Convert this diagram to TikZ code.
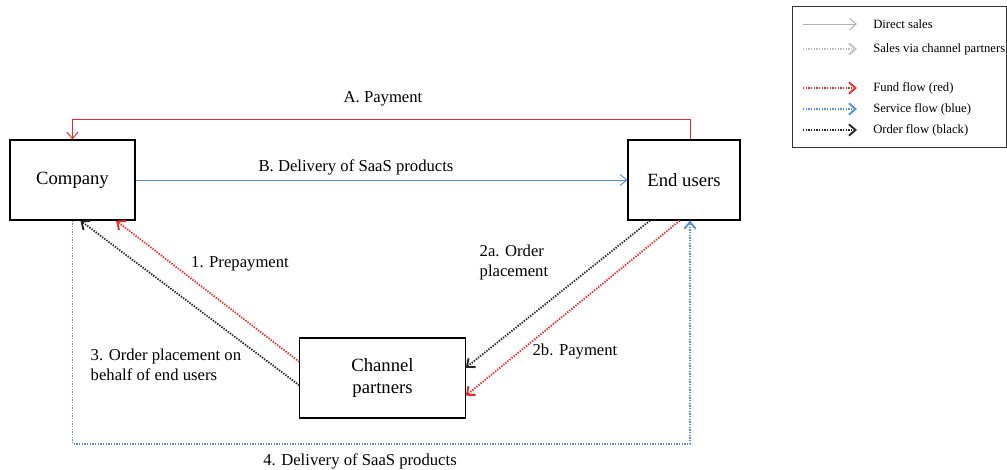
\documentclass[tikz,border=0pt]{standalone}
\usepackage{fontspec}
\setmainfont{Liberation Serif}
\usetikzlibrary{arrows.meta}

\definecolor{fundred}{RGB}{232,42,42}
\definecolor{serviceblue}{RGB}{84,142,214}
\definecolor{lightgray}{RGB}{175,175,175}

\tikzset{
  box/.style={draw, line width=0.9pt, minimum height=60pt, align=center,
    font=\fontsize{14}{17}\selectfont},
  lbl/.style={font=\fontsize{12.5}{15}\selectfont},
  flow/.style={line width=0.7pt, -{Straight Barb[length=5pt,width=8.5pt]}},
  dots/.style={dash pattern=on 1pt off 1pt, line width=1.4pt},
  directsale/.style={flow, lightgray},
  viapartner/.style={flow, dots, lightgray!80},
  fundflow/.style={flow, dots, fundred},
  serviceflow/.style={flow, dots, serviceblue},
  orderflow/.style={flow, dots, black!85}
}

\begin{document}
\begin{tikzpicture}[x=0.75pt, y=-0.75pt]
\useasboundingbox (0,0) rectangle (1007,470);
% Acteurs
\node[box, minimum width=93.75pt] (company) at (72.5,180) {Company};
\node[box, minimum width=84pt] (endusers) at (684,180) {End users};
\node[box, minimum width=124pt] (partners) at (382.5,378) {Channel\\partners};

% Vente directe
\draw[flow, fundred] ([xshift=4.5pt]endusers.north) -- ++(0,-20) -| (company.north);
\draw[flow, serviceblue] (company.east) -- (endusers.west);
\node[lbl] (lblA) at (383,99) {A. Payment};
\node[lbl] (lblB) at (356,167) {B. Delivery of SaaS products};

% Vente via partenaires
\draw[fundflow] (partners.169) -- (company.317);
\draw[orderflow] (partners.185) -- (company.281);
\draw[orderflow] (endusers.230) -- (partners.7);
\draw[fundflow] (endusers.264) -- (partners.348);
\draw[serviceflow] (company.south) -- ++(0,223) -| ([xshift=4.5pt]endusers.south);
\node[lbl] (lbl1) at (240,264) {1. Prepayment};
\node[lbl, anchor=west, align=left] (lbl2a) at (475,262) {2a. Order\\placement};
\node[lbl] (lbl2b) at (575,352) {2b. Payment};
\node[lbl, anchor=west, align=left] (lbl3) at (86,365) {3. Order placement on\\behalf of end users};
\node[lbl] (lbl4) at (360,461) {4. Delivery of SaaS products};

% Legende
\node[draw, black!80, line width=0.8pt, minimum width=160.5pt, minimum height=105.75pt,
  anchor=north west] (legend) at (792,6) {};
\foreach \i/\y/\sty/\txt in {1/24/directsale/Direct sales,
    2/49/viapartner/Sales via channel partners,
    3/88/fundflow/Fund flow (red),
    4/109/serviceflow/Service flow (blue),
    5/130/orderflow/Order flow (black)} {
  \coordinate (ls\i) at (803,\y);
  \coordinate (le\i) at (857,\y);
  \draw[\sty] (ls\i) -- (le\i);
  \node[anchor=west, inner sep=0pt, font=\fontsize{9.5}{11}\selectfont] (lt\i) at (873,\y) {\txt};
}
\end{tikzpicture}
\end{document}
